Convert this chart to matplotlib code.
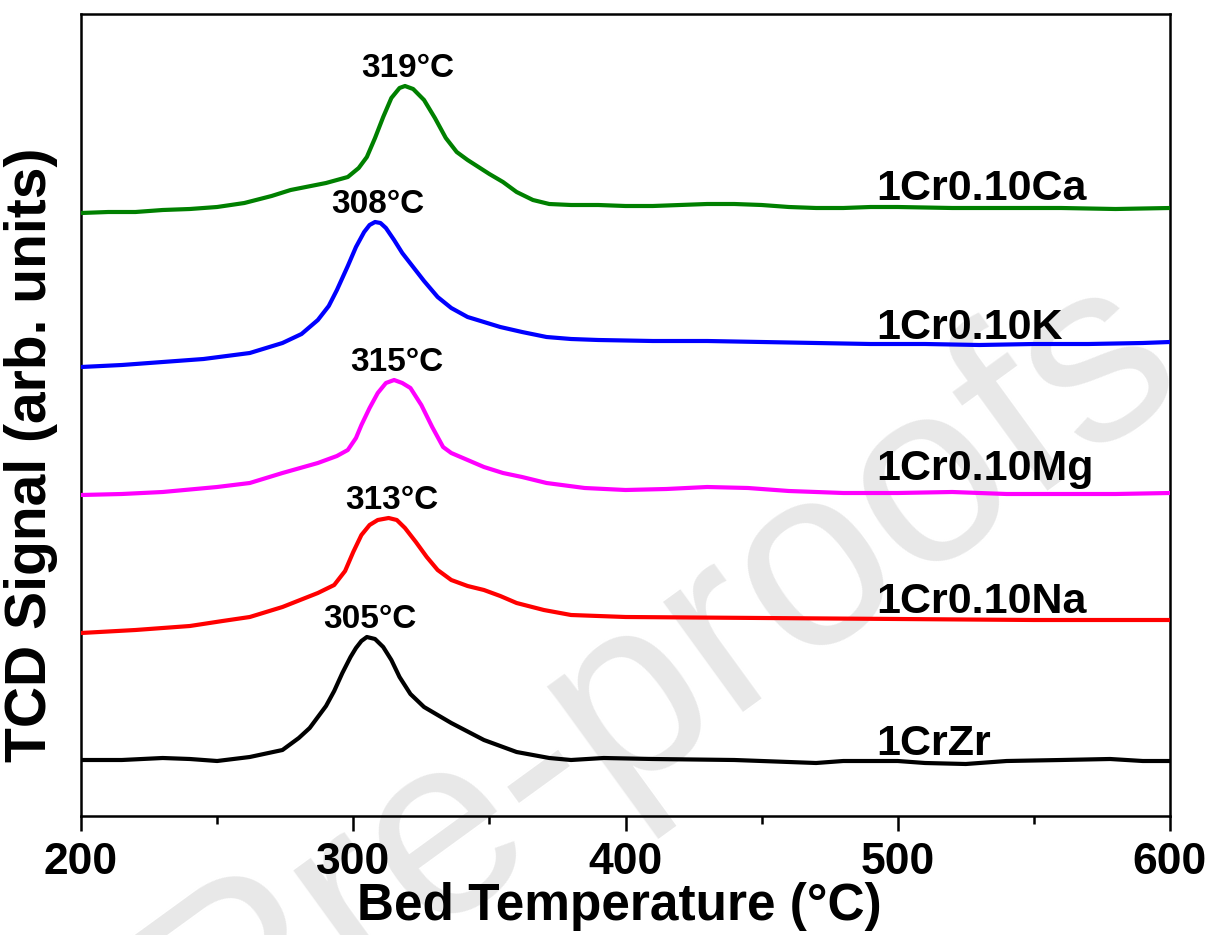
import matplotlib
matplotlib.use("Agg")
import matplotlib.pyplot as plt
from matplotlib.ticker import MultipleLocator

plt.rcParams["font.family"] = ["Liberation Sans", "DejaVu Sans"]
plt.rcParams["font.weight"] = "bold"

# ── TPD traces (bed temperature in °C, TCD signal in arb. units) ─────────────

t_ca = [200, 210, 220, 230, 240, 250, 260, 270, 277, 290, 298, 302, 305, 308,
        311, 314, 317, 319, 322, 326, 330, 334, 338, 342, 346, 350, 355, 360,
        366, 372, 380, 390, 400, 410, 420, 430, 440, 450, 460, 470, 480, 490,
        500, 520, 540, 560, 580, 600]
s_ca = [603, 604, 604, 606, 607, 609, 613, 620, 626, 633, 639, 648, 659, 678,
        699, 718, 728, 730, 727, 716, 698, 678, 664, 656, 649, 642, 634, 624,
        616, 612, 611, 611, 610, 610, 611, 612, 612, 611, 609, 608, 608, 609,
        609, 608, 608, 608, 607, 608]

t_k = [200, 215, 230, 245, 262, 274, 281, 287, 291, 294, 298, 301, 304, 306,
       308, 310, 312, 315, 318, 322, 326, 331, 336, 342, 348, 354, 362, 371,
       380, 390, 410, 430, 450, 470, 490, 510, 530, 550, 570, 590, 600]
s_k = [449, 451, 454, 457, 463, 473, 482, 496, 510, 526, 550, 569, 584, 591,
       594, 593, 588, 576, 563, 549, 535, 519, 508, 499, 494, 489, 484, 479,
       477, 476, 475, 475, 474, 473, 472, 472, 471, 472, 472, 473, 474]

t_mg = [200, 215, 230, 250, 262, 274, 287, 294, 298, 301, 303, 306, 309, 312,
        315, 318, 321, 325, 329, 333, 336, 342, 348, 355, 362, 371, 385, 400,
        415, 430, 445, 460, 480, 500, 520, 540, 560, 580, 600]
s_mg = [321, 322, 324, 329, 333, 343, 353, 360, 366, 378, 391, 408, 423, 433,
        436, 433, 428, 411, 389, 369, 363, 356, 349, 343, 339, 333, 328, 326,
        327, 329, 328, 325, 323, 323, 324, 322, 322, 322, 323]

t_na = [200, 220, 240, 252, 262, 274, 287, 293, 297, 300, 303, 306, 309, 313,
        316, 319, 323, 327, 331, 336, 342, 348, 354, 360, 370, 380, 400, 450,
        500, 550, 600]
s_na = [183, 186, 190, 195, 199, 209, 223, 231, 245, 264, 281, 291, 296, 298,
        296, 288, 274, 259, 246, 236, 230, 226, 220, 213, 206, 201, 199, 198,
        197, 196, 196]

t_zr = [200, 215, 230, 240, 250, 262, 274, 280, 284, 287, 290, 293, 296, 299,
        301, 303, 305, 308, 311, 314, 317, 321, 326, 336, 348, 360, 372, 380,
        392, 410, 440, 470, 480, 500, 510, 525, 540, 560, 578, 590, 600]
s_zr = [56, 56, 58, 57, 55, 59, 66, 78, 88, 99, 110, 125, 143, 159,
        168, 175, 179, 177, 169, 156, 139, 122, 109, 93, 76, 64, 58, 56,
        58, 57, 56, 53, 55, 55, 53, 52, 55, 56, 57, 55, 55]

sample_names = ["1Cr0.10Ca", "1Cr0.10K", "1Cr0.10Mg", "1Cr0.10Na", "1CrZr"]
sample_colors = ["#008000", "#0000ff", "#ff00ff", "#ff0000", "#000000"]
temps = [t_ca, t_k, t_mg, t_na, t_zr]
signals = [s_ca, s_k, s_mg, s_na, s_zr]

# vertical position of each sample name (same units as the signal)
name_y = [616, 477, 336, 203, 61]

# ── Plot ──────────────────────────────────────────────────────────────────────

fig = plt.figure(figsize=(12.1, 9.35), dpi=100)
ax = fig.add_axes([81 / 1210, 119 / 935, 1089 / 1210, 802 / 935])

# faint diagonal watermark sitting behind the traces
fig.text(1191 / 1210, 1 - 386 / 935, "Journal Pre-proofs", fontsize=185,
         fontweight="normal", color="#e8e8e8", rotation=36,
         rotation_mode="anchor", ha="right", va="baseline", zorder=-1)

for t, s, col, name, ny in zip(temps, signals, sample_colors, sample_names, name_y):
    ax.plot(t, s, color=col, linewidth=3.0, solid_joinstyle="round", zorder=3)
    i_peak = max(range(len(s)), key=lambda i: s[i])
    ax.text(t[i_peak] + 1, s[i_peak] + 9, f"{t[i_peak]}°C", fontsize=24,
            ha="center", va="baseline", zorder=4)
    ax.text(492, ny, name, fontsize=31, ha="left", va="baseline", zorder=4)

ax.set_xlim(200, 600)
ax.set_ylim(0, 802)
ax.patch.set_alpha(0)

for sp in ax.spines.values():
    sp.set_linewidth(1.8)

ax.xaxis.set_major_locator(MultipleLocator(100))
ax.xaxis.set_minor_locator(MultipleLocator(50))
ax.tick_params(axis="x", which="major", direction="out", length=11, width=1.8,
               labelsize=32, pad=8)
ax.tick_params(axis="x", which="minor", direction="out", length=6, width=1.8)
ax.set_yticks([])

fig.text(619 / 1210, 15 / 935, "Bed Temperature (°C)", fontsize=37,
         ha="center", va="baseline")
fig.text(31 / 1210, 1 - 455 / 935, "TCD Signal (arb. units)", fontsize=41,
         rotation=90, ha="center", va="center")

fig.savefig("out.png", dpi=100, facecolor="white")
